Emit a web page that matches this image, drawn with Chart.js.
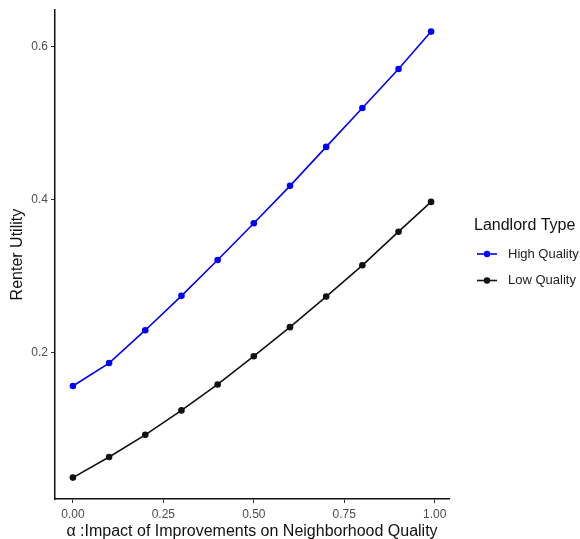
<!DOCTYPE html>
<html>
<head>
<meta charset="utf-8">
<script src="https://cdn.jsdelivr.net/npm/chart.js@4"></script>
<style>
  html, body { margin: 0; padding: 0; background: #fff; }
  #wrap { width: 580px; height: 539px; position: relative; }
</style>
</head>
<body>
<div id="wrap"><canvas id="utilityChart"></canvas></div>
<script>
// alpha values and renter utility per landlord type
const alpha = [0, 0.1, 0.2, 0.3, 0.4, 0.5, 0.6, 0.7, 0.8, 0.9, 0.99];
const highQuality = [0.156, 0.186, 0.229, 0.274, 0.321, 0.369, 0.418, 0.469, 0.520, 0.571, 0.620];
const lowQuality = [0.036, 0.063, 0.092, 0.124, 0.158, 0.195, 0.233, 0.273, 0.314, 0.358, 0.397];
const seriesNames = ['High Quality', 'Low Quality'];
const seriesColors = ['#0000ff', '#111111'];
const xTicks = [0, 0.25, 0.5, 0.75, 1.0];
const yTicks = [0.2, 0.4, 0.6];
const legendTitle = 'Landlord Type';

const FONT = '"Liberation Sans", Arial, Helvetica, sans-serif';

function toPoints(ys) {
  return alpha.map((a, i) => ({ x: a, y: ys[i] }));
}

// ggplot style legend on the right
const sideLegend = {
  id: 'sideLegend',
  afterDraw(chart) {
    const ctx = chart.ctx;
    ctx.save();
    ctx.fillStyle = '#111';
    ctx.font = '16px ' + FONT;
    ctx.textBaseline = 'middle';
    ctx.textAlign = 'left';
    ctx.fillText(legendTitle, 474, 226);

    chart.data.datasets.forEach((ds, i) => {
      const y = 254 + i * 26.5;
      ctx.strokeStyle = ds.borderColor;
      ctx.lineWidth = 1.6;
      ctx.beginPath();
      ctx.moveTo(477, y);
      ctx.lineTo(497, y);
      ctx.stroke();
      ctx.fillStyle = ds.backgroundColor;
      ctx.beginPath();
      ctx.arc(487, y, 3.2, 0, Math.PI * 2);
      ctx.fill();
      ctx.fillStyle = '#222';
      ctx.font = '13px ' + FONT;
      ctx.fillText(ds.label, 508, y);
    });
    ctx.restore();
  }
};

const ctx = document.getElementById('utilityChart').getContext('2d');
new Chart(ctx, {
  type: 'line',
  data: {
    datasets: [
      {
        label: seriesNames[0],
        data: toPoints(highQuality),
        borderColor: seriesColors[0],
        backgroundColor: seriesColors[0],
        borderWidth: 1.6,
        pointRadius: 3.3,
        pointBorderWidth: 0,
        tension: 0
      },
      {
        label: seriesNames[1],
        data: toPoints(lowQuality),
        borderColor: seriesColors[1],
        backgroundColor: seriesColors[1],
        borderWidth: 1.6,
        pointRadius: 3.3,
        pointBorderWidth: 0,
        tension: 0
      }
    ]
  },
  options: {
    responsive: true,
    maintainAspectRatio: false,
    animation: false,
    layout: { padding: { top: 10, right: 131, bottom: 0, left: 0 } },
    plugins: {
      legend: { display: false },
      tooltip: { enabled: false }
    },
    scales: {
      x: {
        type: 'linear',
        min: -0.0495,
        max: 1.0395,
        afterBuildTicks: (scale) => { scale.ticks = xTicks.map(v => ({ value: v })); },
        afterFit: (scale) => { scale.height = 40; },
        grid: { drawOnChartArea: false, tickLength: 4, tickColor: '#333', tickWidth: 1 },
        border: { color: '#111', width: 1.5 },
        ticks: {
          color: '#4d4d4d',
          font: { family: FONT, size: 12 },
          padding: 4,
          maxRotation: 0,
          callback: (v) => Number(v).toFixed(2)
        },
        title: {
          display: true,
          text: 'α :Impact of Improvements on Neighborhood Quality',
          color: '#111',
          font: { family: FONT, size: 16, lineHeight: 1 },
          padding: { top: 0, bottom: -1 }
        }
      },
      y: {
        type: 'linear',
        min: 0.008,
        max: 0.648,
        afterBuildTicks: (scale) => { scale.ticks = yTicks.map(v => ({ value: v })); },
        afterFit: (scale) => { scale.width = 55; },
        grid: { drawOnChartArea: false, tickLength: 4, tickColor: '#333', tickWidth: 1 },
        border: { color: '#111', width: 1.5 },
        ticks: {
          color: '#4d4d4d',
          font: { family: FONT, size: 12 },
          padding: 3,
          callback: (v) => Number(v).toFixed(1)
        },
        title: {
          display: true,
          text: 'Renter Utility',
          color: '#111',
          font: { family: FONT, size: 16, lineHeight: 1 },
          padding: { top: 9.5, bottom: 0 }
        }
      }
    }
  },
  plugins: [sideLegend]
});
</script>
</body>
</html>
